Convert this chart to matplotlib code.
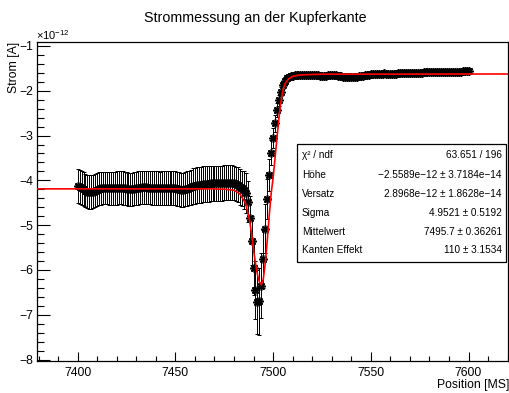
import numpy as np
import matplotlib
matplotlib.use("Agg")
import matplotlib.pyplot as plt
from matplotlib.patches import Rectangle
from matplotlib.ticker import MultipleLocator, FixedLocator

plt.rcParams['font.family'] = ['Liberation Sans', 'DejaVu Sans']
plt.rcParams['mathtext.fontset'] = 'custom'
plt.rcParams['mathtext.rm'] = 'Liberation Sans'
plt.rcParams['mathtext.it'] = 'Liberation Sans:italic'

# ---- data (current in units of 1e-12 A) ----
pos_start = 7400
current = [
    -4.12, -4.14, -4.17, -4.20, -4.23, -4.25, -4.26, -4.26, -4.25, -4.23,
    -4.21, -4.19, -4.18, -4.17, -4.17, -4.17, -4.18, -4.18, -4.18, -4.18,
    -4.17, -4.16, -4.16, -4.17, -4.18, -4.19, -4.20, -4.20, -4.20, -4.19,
    -4.18, -4.17, -4.16, -4.15, -4.15, -4.15, -4.16, -4.16, -4.17, -4.17,
    -4.17, -4.17, -4.18, -4.18, -4.18, -4.17, -4.17, -4.16, -4.16, -4.17,
    -4.18, -4.19, -4.20, -4.21, -4.21, -4.20, -4.19, -4.17, -4.15, -4.13,
    -4.12, -4.11, -4.10, -4.10, -4.09, -4.09, -4.08, -4.08, -4.07, -4.07,
    -4.07, -4.07, -4.06, -4.06, -4.06, -4.05, -4.05, -4.05, -4.05, -4.05,
    -4.06, -4.08, -4.10, -4.14, -4.18, -4.22, -4.28, -4.48, -4.85, -5.35,
    -5.95, -6.45, -6.72, -6.70, -6.35, -5.75, -5.08, -4.42, -3.88, -3.38,
    -3.06, -2.73, -2.43, -2.21, -2.02, -1.87, -1.78, -1.72, -1.69, -1.67,
    -1.66, -1.65, -1.65, -1.64, -1.64, -1.64, -1.64, -1.64, -1.64, -1.64,
    -1.64, -1.64, -1.65, -1.65, -1.66, -1.66, -1.66, -1.66, -1.65, -1.65,
    -1.64, -1.64, -1.65, -1.66, -1.67, -1.68, -1.69, -1.69, -1.70, -1.70,
    -1.70, -1.70, -1.69, -1.69, -1.68, -1.67, -1.66, -1.65, -1.64, -1.64,
    -1.63, -1.63, -1.63, -1.62, -1.62, -1.62, -1.62, -1.61, -1.62, -1.62,
    -1.62, -1.62, -1.62, -1.62, -1.61, -1.61, -1.61, -1.61, -1.60, -1.60,
    -1.60, -1.60, -1.60, -1.60, -1.60, -1.60, -1.60, -1.59, -1.59, -1.59,
    -1.59, -1.59, -1.59, -1.59, -1.59, -1.58, -1.58, -1.58, -1.58, -1.58,
    -1.58, -1.58, -1.57, -1.57, -1.57, -1.57, -1.57, -1.56, -1.56, -1.56,
    -1.56,
]
errors = [
    0.38, 0.38, 0.38, 0.38, 0.37, 0.37, 0.37, 0.37, 0.37, 0.37,
    0.37, 0.37, 0.36, 0.36, 0.36, 0.36, 0.36, 0.36, 0.37, 0.37,
    0.37, 0.37, 0.37, 0.37, 0.37, 0.37, 0.37, 0.37, 0.37, 0.37,
    0.37, 0.37, 0.37, 0.37, 0.37, 0.37, 0.37, 0.37, 0.37, 0.37,
    0.37, 0.37, 0.37, 0.38, 0.38, 0.38, 0.38, 0.38, 0.38, 0.38,
    0.38, 0.38, 0.38, 0.38, 0.38, 0.38, 0.39, 0.39, 0.39, 0.40,
    0.40, 0.40, 0.40, 0.40, 0.40, 0.40, 0.40, 0.40, 0.39, 0.39,
    0.39, 0.39, 0.39, 0.39, 0.39, 0.39, 0.39, 0.39, 0.39, 0.39,
    0.38, 0.38, 0.39, 0.40, 0.40, 0.42, 0.44, 0.46, 0.50, 0.55,
    0.60, 0.65, 0.72, 0.75, 0.72, 0.65, 0.55, 0.45, 0.35, 0.28,
    0.22, 0.18, 0.15, 0.12, 0.10, 0.09, 0.08, 0.07, 0.07, 0.06,
] + [0.06] * 40 + [0.05] * 51

positions = np.arange(pos_start, pos_start + len(current))

# fit curve
fit_x = [7379, 7470, 7476, 7480, 7483, 7486, 7488, 7489, 7490, 7491, 7492,
         7493, 7494, 7495, 7496, 7497, 7498, 7499, 7500, 7501, 7502, 7503,
         7504, 7505, 7506, 7508, 7510, 7513, 7517, 7525, 7621]
fit_y = [-4.19, -4.19, -4.20, -4.22, -4.30, -4.52, -4.90, -5.20, -5.55, -5.85,
         -6.10, -6.27, -6.33, -6.20, -5.85, -5.35, -4.80, -4.30, -3.95, -3.50,
         -3.05, -2.60, -2.25, -2.00, -1.85, -1.73, -1.68, -1.65, -1.64, -1.63,
         -1.625]

xticks = [7400, 7450, 7500, 7550, 7600]
yticks = [-1, -2, -3, -4, -5, -6, -7, -8]

stat_labels = ["\u03c7\u00b2 / ndf", "H\u00f6he", "Versatz", "Sigma",
               "Mittelwert", "Kanten Effekt"]
stat_values = ["63.651 / 196",
               "\u22122.5589e\u221212 \u00b1 3.7184e\u221214",
               "2.8968e\u221212 \u00b1 1.8628e\u221214",
               "4.9521 \u00b1 0.5192",
               "7495.7 \u00b1 0.36261",
               "110 \u00b1 3.1534"]

W, H = 509, 393
fig = plt.figure(figsize=(W / 100, H / 100), dpi=100)
ax = fig.add_axes([37 / W, 1 - 361 / H, (508 - 37) / W, (361 - 42) / H])

ax.errorbar(positions, current, yerr=errors, fmt='none', ecolor='black',
            elinewidth=0.7, capsize=1.3, capthick=0.7, zorder=2)
ax.plot(positions, current, linestyle='none', marker=(8, 2, 0),
        markersize=6, markeredgewidth=1.2, color='black', zorder=3)
ax.plot(fit_x, fit_y, color='red', lw=1.2, zorder=4)

ax.set_xlim(7379.2, 7620.2)
ax.set_ylim(-8.033, -0.911)

ax.xaxis.set_major_locator(FixedLocator(xticks))
ax.xaxis.set_minor_locator(MultipleLocator(10))
ax.yaxis.set_major_locator(FixedLocator(yticks))
ax.yaxis.set_minor_locator(MultipleLocator(0.2))
ax.set_xticklabels([str(t) for t in xticks])
ax.set_yticklabels(["\u2212%d" % abs(t) for t in yticks])

ax.tick_params(axis='both', which='both', direction='in', top=False,
               right=False, labelsize=8.8, width=0.8, colors='black')
ax.tick_params(axis='y', which='major', length=9.5, pad=3)
ax.tick_params(axis='y', which='minor', length=5)
ax.tick_params(axis='x', which='major', length=6.5, pad=4)
ax.tick_params(axis='x', which='minor', length=3.6)
for s in ax.spines.values():
    s.set_linewidth(0.9)

fig.text(255 / W, 1 - 18 / H, "Strommessung an der Kupferkante",
         ha='center', va='center', fontsize=10.3)
fig.text(14 / W, 1 - 42 / H, "Strom [A]", rotation=90, ha='center',
         va='top', fontsize=8.8)
fig.text(36 / W, 1 - 35 / H, r"$\times10^{-12}$", ha='left', va='center',
         fontsize=8)
fig.text(1.0, 1 - 385 / H, "Position [MS]", ha='right', va='center',
         fontsize=8.8)

# stats box
bx0, bx1, by0, by1 = 297, 506, 144, 262
fig.add_artist(Rectangle((bx0 / W, 1 - by1 / H), (bx1 - bx0) / W,
                         (by1 - by0) / H, transform=fig.transFigure,
                         facecolor='white', edgecolor='black', lw=0.9,
                         zorder=10))
rows_y = [155, 175, 194, 213, 232, 250]
for lab, val, yy in zip(stat_labels, stat_values, rows_y):
    fig.text(302 / W, 1 - yy / H, lab, ha='left', va='center',
             fontsize=7.2, zorder=11)
    fig.text(502 / W, 1 - yy / H, val, ha='right', va='center',
             fontsize=7.2, zorder=11)

fig.savefig("out.png", dpi=100)
